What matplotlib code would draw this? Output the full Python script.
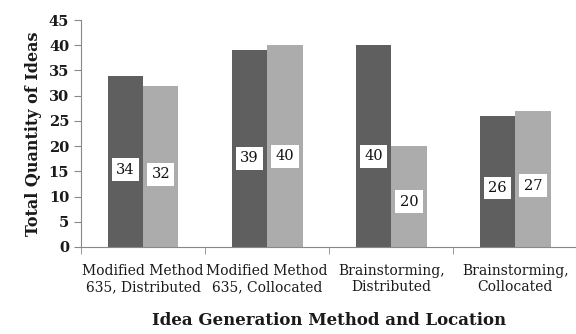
import matplotlib.pyplot as plt
import numpy as np

categories = ["Modified Method\n635, Distributed", "Modified Method\n635, Collocated",
              "Brainstorming,\nDistributed", "Brainstorming,\nCollocated"]
series_a = [34, 39, 40, 26]
series_b = [32, 40, 20, 27]

plt.rcParams['font.family'] = 'DejaVu Serif'

fig = plt.figure(figsize=(5.76, 3.34), dpi=100)
ax = fig.add_axes([0.1406, 0.2605, 0.862, 0.6795])

x = np.arange(len(categories))
w = 0.285
bars_a = ax.bar(x - w / 2, series_a, w, color="#5f5f5f", zorder=2)
bars_b = ax.bar(x + w / 2, series_b, w, color="#acacac", zorder=2)

for bars, vals in ((bars_a, series_a), (bars_b, series_b)):
    for b, v in zip(bars, vals):
        ax.text(b.get_x() + b.get_width() / 2, v * 0.45, str(v), ha="center", va="center",
                fontsize=10.5, zorder=3, color="#111111",
                bbox=dict(boxstyle="square,pad=0.3", fc="white", ec="none"))

ax.set_xlim(-0.5, len(categories) - 0.5)
ax.set_ylim(0, 45)
ax.set_yticks(range(0, 46, 5))
ax.set_xticks(x)
ax.set_xticklabels(categories, fontsize=10, color="#1a1a1a")
ax.set_xticks(np.arange(-0.5, len(categories), 1), minor=True)
ax.tick_params(axis="x", which="major", length=0, pad=12)
ax.tick_params(axis="x", which="minor", length=5, color="#888888")
ax.tick_params(axis="y", length=5, color="#888888", labelsize=10.5)
for lab in ax.get_yticklabels():
    lab.set_fontweight("bold")
    lab.set_color("#1a1a1a")

for s in ("top", "right"):
    ax.spines[s].set_visible(False)
for s in ("left", "bottom"):
    ax.spines[s].set_color("#888888")

ax.set_ylabel("Total Quantity of Ideas", fontsize=11.5, fontweight="bold", color="#1a1a1a", labelpad=5)
ax.set_xlabel("Idea Generation Method and Location", fontsize=12, fontweight="bold",
              color="#1a1a1a", labelpad=13)

fig.savefig("out.png", dpi=100)
